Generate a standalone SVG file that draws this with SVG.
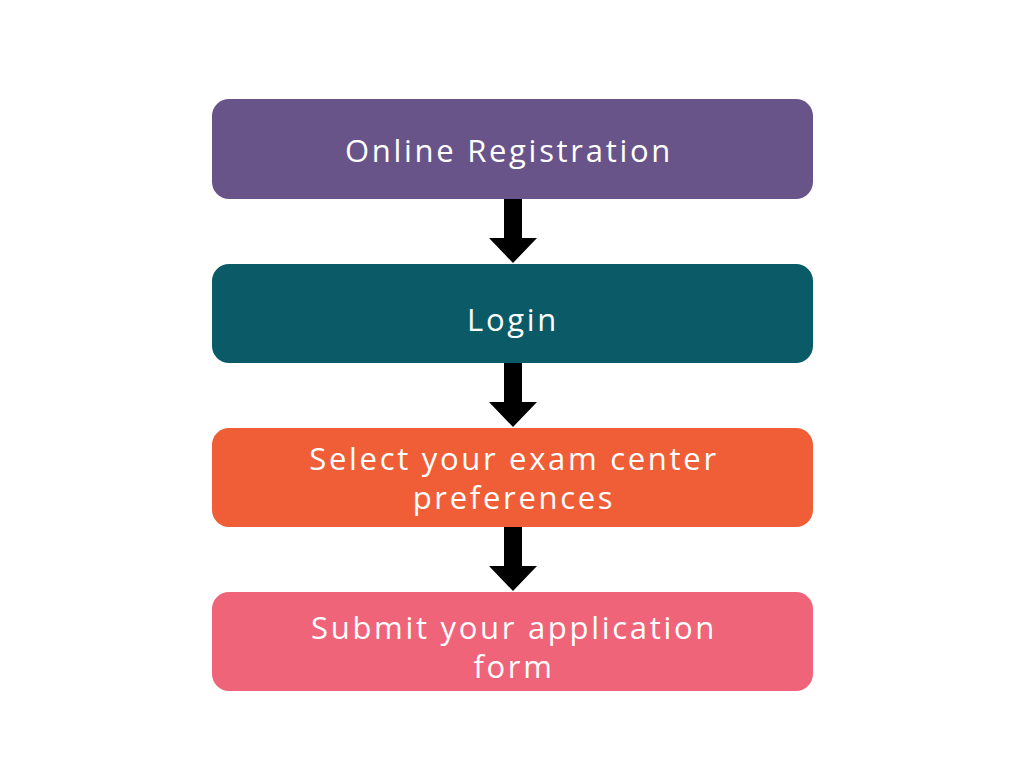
<svg xmlns="http://www.w3.org/2000/svg" width="1024" height="768" viewBox="0 0 1024 768">
  <style>
    .box { stroke: none; }
    .lbl { font-family: "Open Sans", "Liberation Sans", sans-serif; font-size: 31px; fill: #ffffff; text-anchor: middle; letter-spacing: 2.7px; }
    .arrow { fill: #000000; }
  </style>
  <defs>
    <path id="arr" d="M -9 0 H 9 V 39 H 24 L 0 64 L -24 39 H -9 Z"/>
  </defs>
  <rect width="1024" height="768" fill="#ffffff"/>
  <g id="connectors">
    <use href="#arr" class="arrow" x="513" y="199"/>
    <use href="#arr" class="arrow" x="513" y="363"/>
    <use href="#arr" class="arrow" x="513" y="527"/>
  </g>
  <g id="node-online-registration">
    <rect class="box" x="212" y="99" width="601" height="100" rx="17" fill="#685489"/>
    <text class="lbl" x="509" y="162">Online Registration</text>
  </g>
  <g id="node-login">
    <rect class="box" x="212" y="264" width="601" height="99" rx="17" fill="#0A5A67"/>
    <text class="lbl" x="513" y="331">Login</text>
  </g>
  <g id="node-select-center">
    <rect class="box" x="212" y="428" width="601" height="99" rx="17" fill="#F05E37"/>
    <text class="lbl" x="514" y="470">Select your exam center</text>
    <text class="lbl" x="514" y="509">preferences</text>
  </g>
  <g id="node-submit">
    <rect class="box" x="212" y="592" width="601" height="99" rx="17" fill="#EF6479"/>
    <text class="lbl" x="514" y="639">Submit your application</text>
    <text class="lbl" x="514" y="678">form</text>
  </g>
</svg>
